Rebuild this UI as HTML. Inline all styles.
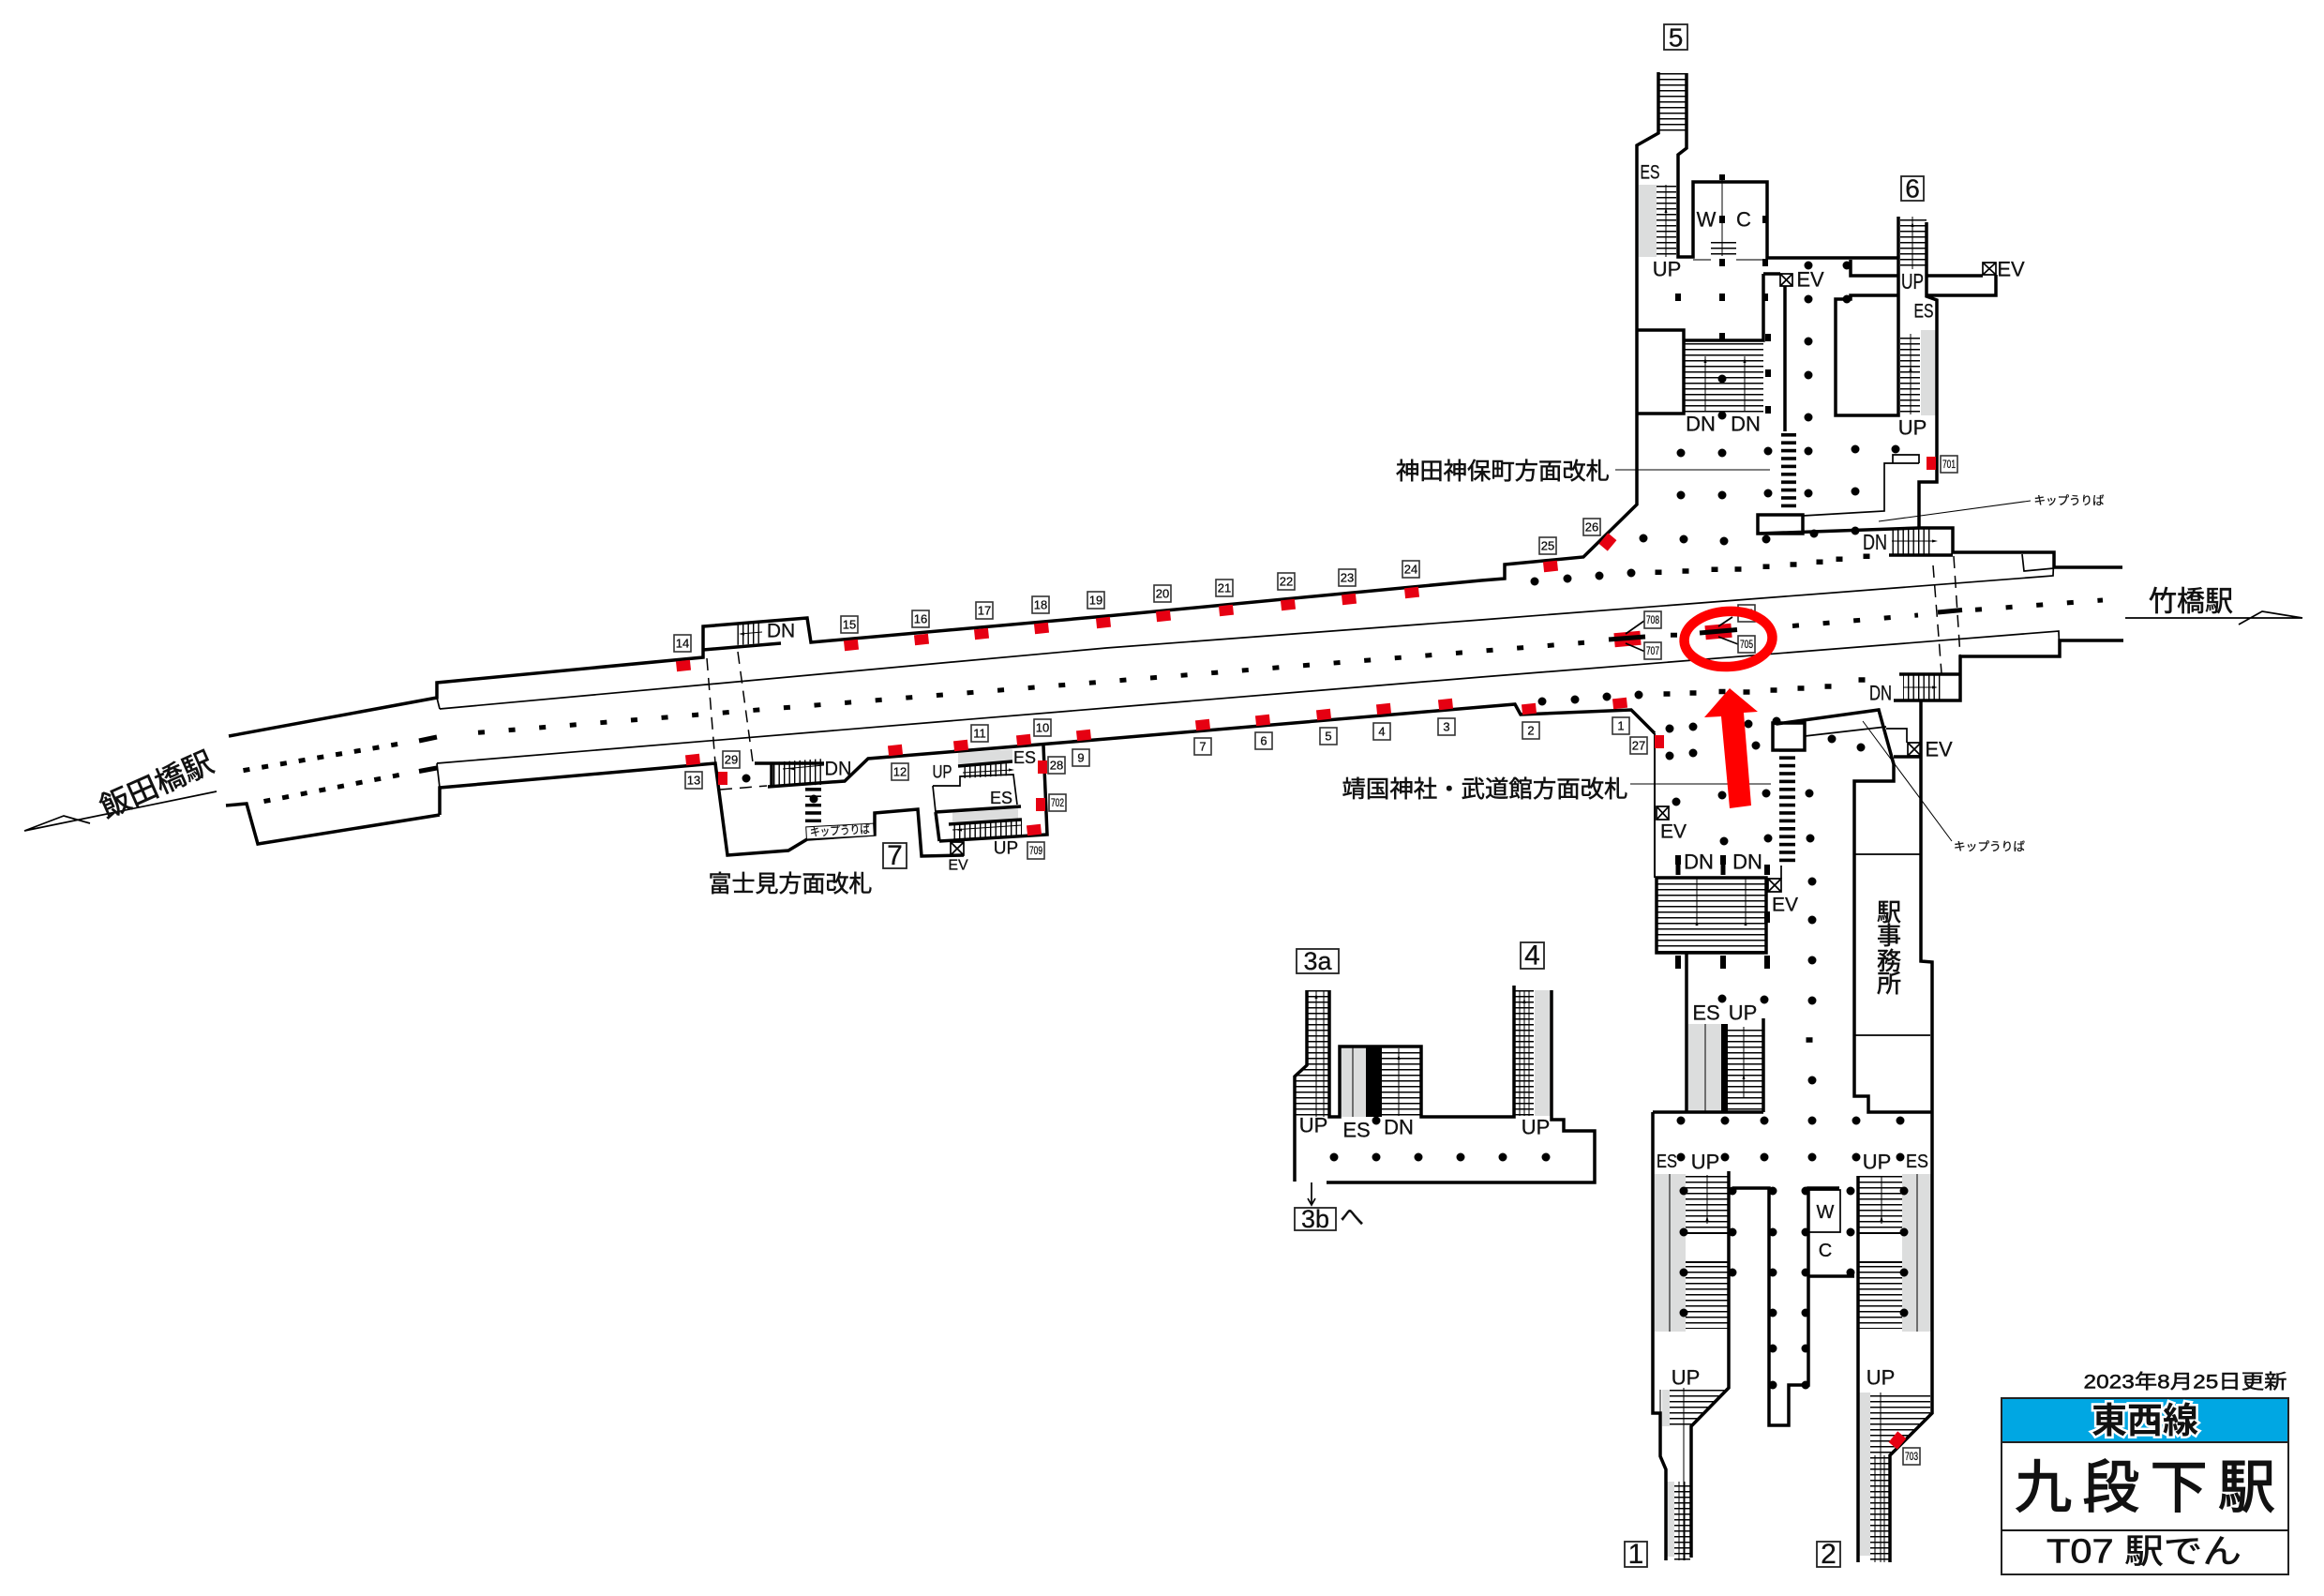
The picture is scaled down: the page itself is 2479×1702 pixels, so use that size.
<!DOCTYPE html>
<html lang="ja"><head><meta charset="utf-8"><title>九段下駅 駅でん</title>
<style>
html,body{margin:0;padding:0;background:#fff}
svg{display:block}
text{font-family:"Liberation Sans","Noto Sans CJK JP",sans-serif;fill:#111;stroke:#111;stroke-width:.3px;text-anchor:middle;dominant-baseline:central}
.w{fill:none;stroke:#000;stroke-width:3.5;stroke-linejoin:miter}
.m{fill:none;stroke:#000;stroke-width:2}
.t{fill:none;stroke:#000;stroke-width:1.7}
.h{fill:none;stroke:#000;stroke-width:1}
.b{fill:#fff;stroke:#333;stroke-width:1.6;width:18px;height:18px}
.k{fill:#fff;stroke:#222;stroke-width:1.8}
.g{fill:#dcdddd}
.n{font-size:13px}
.n3{font-size:12px}
.a{font-size:22px}
.s{font-size:18px}
.j{font-size:25px;stroke-width:.55px}
.q{font-size:12.5px}
.big{font-size:30px}
.r{fill:#e60012}
</style></head><body>
<svg xmlns="http://www.w3.org/2000/svg" width="2479" height="1702" viewBox="0 0 2479 1702">
<defs>
<pattern id="hp" patternUnits="userSpaceOnUse" width="8" height="6"><rect width="8" height="1.5" fill="#000"/></pattern>
<pattern id="vp" patternUnits="userSpaceOnUse" width="5.5" height="8"><rect width="1.4" height="8" fill="#000"/></pattern>
<pattern id="gp" patternUnits="userSpaceOnUse" width="8" height="8.4"><rect width="8" height="3.6" fill="#000"/></pattern>
<rect id="r" class="r" x="-7.5" y="-5.5" width="15" height="11" transform="rotate(-6)"/>
<rect id="u" class="r" x="-5" y="-7" width="10" height="14"/>
</defs>
<rect width="2479" height="1702" fill="#fff"/>

<!-- grey escalators -->
<path class="g" d="M1748 197h19v77h-19zM2049 352h16v91h-16zM1431 1117h26v74h-26zM1637 1056h18v134h-18zM1801 1092h35v93h-35zM1765 1252h33v168h-33zM2029 1252h31v168h-31zM1773 1482h8v39h-8zM1777 1580h9v80h-9zM1982 1485h13v174h-13zM1022 803L1080 799V812L1022 815ZM1016 867L1086 862V873L1016 877Z"/>

<!-- stairs -->
<g fill="url(#hp)">
<rect x="1769" y="77" width="30" height="65"/>
<rect x="1767" y="197" width="21" height="77"/>
<rect x="1825" y="254" width="27" height="22"/>
<rect x="1796" y="363" width="85" height="78"/>
<rect x="2027" y="231" width="28" height="56"/>
<rect x="2027" y="356" width="21" height="86"/>
<rect x="1767" y="936" width="117" height="80"/>
<rect x="1843" y="1095" width="37" height="90"/>
<rect x="1798" y="1253" width="45" height="61"/>
<rect x="1798" y="1346" width="45" height="71"/>
<rect x="1982" y="1254" width="47" height="60"/>
<rect x="1982" y="1346" width="47" height="71"/>
<polygon points="1781,1482 1840,1482 1804,1521 1781,1521"/>
<rect x="1786" y="1580" width="17" height="84"/>
<polygon points="1995,1485 2059,1485 2059,1507 2016,1552 1995,1552"/>
<rect x="1995" y="1552" width="20" height="114"/>
<rect x="1394" y="1056" width="24" height="81"/>
<polygon points="1394,1137 1418,1137 1418,1191 1382,1191 1382,1148"/>
<rect x="1474" y="1118" width="41" height="72"/>
<rect x="1615" y="1056" width="21" height="134"/>
</g>
<g fill="url(#vp)">
<polygon points="785,665 813,663 813,686 785,688"/>
<polygon points="823,813 879,809 879,837 823,838"/>
<polygon points="1027,817 1077,814 1077,827 1027,830"/>
<polygon points="1016,880 1090,875 1090,890 1016,895"/>
<rect x="2018" y="563" width="42" height="29"/>
<rect x="2030" y="719" width="41" height="28"/>
</g>
<g fill="url(#gp)">
<rect x="1900" y="462" width="16" height="83"/>
<rect x="1898" y="800" width="17" height="121"/>
<rect x="859" y="838" width="17" height="12"/>
<rect x="859" y="857" width="17" height="20"/>
</g>
<rect x="1457" y="1117" width="17" height="74" fill="#000"/>
<rect x="1836" y="1092" width="7" height="93" fill="#000"/>

<!-- thin platform lines -->
<path class="t" d="M469 756L1180 691L1580 661L2190 614L2191 589M2157 591L2159 609L2191 606"/>
<path class="t" d="M466 814L1180 755L1580 722L2196 673L2197 700M466 744L469 756M466 814L469 840"/>

<!-- walls -->
<path class="w" d="M244 785L466 744V728L750 701V668L861 659L865 685L1180 657L1580 619L1605 617V602L1689 594L1746 538V155L1769 142V77"/>
<path class="w" d="M1799 78V158L1790 165V274H1806V194H1885V275H2025M2025 231V443H1958V319H1974V315H2025M1974 277V294H2025M2056 294H2115M2129 293V315H2056M2055 237V316L2066 320V514H2047V563"/>
<path class="w" d="M1881 292V363H1796V441H1746M1746 352H1796V363M1881 292H1899M1904 305V460"/>
<path class="w" d="M1875 549H1923V569H1875ZM1875 569L2047 563H2083V589H2191V605H2264M2015 592H2083"/>
<path class="w" d="M2265 683H2197V700H2091V747H2020M2026 719H2090M2049 747V1025L2061 1026V1507L2016 1552V1666"/>
<path class="w" d="M469 869V840L763 814L776 912L841 907L861 895L933 890V867L979 863L983 913L1028 912"/>
<path class="w" d="M241 859L263 857L275 900L469 869"/>
<path class="w" d="M819 839L901 833L926 809L1180 788L1580 754L1616 751L1622 762L1740 757L1765 782"/>
<path class="w" d="M1002 897L1117 890L1113 795M998 866L1089 860M998 866L1002 897M1012 879L1090 874M1022 817L1080 812M750 693L833 686M823 813V838M805 814H879"/>
<path class="t" d="M995 838H1024V828L1081 826L1085 858M998 866L995 838"/>
<path class="m" d="M1765 782V936"/>
<path class="w" d="M1767 936H1884V1016H1767ZM1895 772L2004 757L2020 815V833H1978V1169H1993V1186H2061M1891 771H1925V800H1891ZM2020 807H2049"/>
<path class="t" d="M1925 785L2012 775M2012 777H2034V792"/>
<path class="w" d="M1799 1017V1186M1881 1086V1186M1763 1186H1881M1763 1186V1507H1771V1553L1777 1567V1664M1844 1249V1480L1804 1521V1661M1848 1267H1887V1520H1908V1477H1929V1267H1962M1929 1361H1978M1982 1254V1666"/>
<path class="t" d="M1929 1269H1963V1314H1929M1978 911H2049M1978 1104H2059M1900 923V937"/>
<path class="w" d="M1394 1056V1136L1381 1148V1260M1418 1056V1191H1429V1116H1516V1191H1615V1051M1655 1056V1194H1668V1206H1701V1261H1415"/>
<path class="m" d="M1798 1315H1843M1798 1346H1843M1982 1315H2029M1982 1346H2029"/>
<path class="h" d="M1837 186V273M1819 1092V1185M1781 1252V1420M1821 1253V1305M2007 1254V1305M2045 1252V1420M1796 1480V1664M2006 1485V1666M1443 1117V1191M1492 1118V1190M1860 1095V1170M1771 1482V1521"/>
<path class="h" d="M1404 1056V1191M1412 1056V1191M1621 1056V1190M1626 1056V1190M1631 1056V1190M1791 1580V1664M1797 1580V1664M2000 1552V1666M2010 1552V1666M1777 197V274M2040 231V287M2038 356V442M1819 380V438M1861 380V438M1810 936V985M1862 936V985M790 676L813 674M835 820L879 816M1027 824L1080 821M1016 885L1090 880M2018 577H2065M2030 733H2065"/>
<path class="t" d="M1806 277H1825M1852 277H1881" style="stroke:#666"/>
<!-- tiny direction arrows -->
<path fill="#000" d="M1777 221l-1.500 6h3zM1819 381l-1.500 6h3zM1861 381l-1.500 6h3zM2040 236l-1.500 6h3zM2038 390l-1.500 6h3zM1810 981l-1.500 6h3zM1862 981l-1.500 6h3zM1860 1145l-1.500 6h3zM1821 1296l-1.500 6h3zM2007 1296l-1.500 6h3zM1404 1059l-1.500 6h3zM1626 1064l-1.500 6h3zM1492 1124l-1.500 6h3zM2067 577l-6-1.500v3zM2067 733l-6-1.500v3zM842 820l6-1.500v3zM1082 821l-6-1.500v3zM1020 885l6-1.500v3zM788 676l6-1.500v3z"/>

<!-- pillars & gates bars -->
<path d="M1790 912V922M1838 912V922M1885 922V933M1790 1019V1033M1838 1019V1033M1885 1019V1033M1885 972V984M1837 186V192M1837 230V238M1883 230V238M1837 276V284M1883 276V284M1790 313V321M1837 313V321M1883 313V321M1837 355V363M1886 356V364M1886 394V402M1886 433V441" stroke="#000" stroke-width="6" fill="none"/>
<path d="M1790 921V933M1838 921V933" stroke="#000" stroke-width="5" fill="none"/>

<!-- round columns -->
<path fill="none" stroke="#000" stroke-width="9" stroke-linecap="round" d="M1929 283h0M1970 283h0M1929 319h0M1970 319h0M1929 364h0M1929 400h0M1929 445h0M1837 404h0M1837 443h0
M1793 483h0M1837 483h0M1886 481h0M1929 481h0M1979 479h0M2022 479h0
M1793 528h0M1837 528h0M1886 526h0M1929 526h0M1979 524h0
M1753 574h0M1796 575h0M1839 577h0M1884 575h0M1935 569h0M1979 566h0
M1637 620h0M1672 617h0M1706 614h0M1740 611h0
M1645 748h0M1680 746h0M1714 743h0M1748 741h0
M1781 777h0M1806 775h0M1865 772h0M1895 769h0M1781 806h0M1806 803h0M1873 795h0M1954 788h0M1985 797h0
M1837 848h0M1884 846h0M1930 846h0M1788 855h0M1839 897h0M1886 894h0M1931 894h0M1933 940h0M1933 981h0M1933 1024h0M1933 1067h0M1933 1152h0
M1837 1065h0M1882 1066h0
M1793 1195h0M1840 1195h0M1882 1195h0M1933 1195h0M1980 1195h0M2027 1195h0
M1793 1234h0M1840 1234h0M1882 1234h0M1933 1234h0M1980 1234h0M2027 1234h0
M1796 1270h0M1796 1314h0M1796 1357h0M1796 1400h0M1848 1270h0M1848 1314h0M1848 1357h0
M1891 1270h0M1891 1314h0M1891 1357h0M1891 1400h0M1891 1438h0M1891 1477h0
M1926 1270h0M1926 1314h0M1926 1357h0M1926 1400h0M1926 1438h0M1926 1477h0
M1974 1270h0M1974 1314h0M1974 1357h0M2031 1270h0M2031 1314h0M2031 1357h0M2031 1400h0
M1468 1195h0M1423 1234h0M1468 1234h0M1513 1234h0M1558 1234h0M1603 1234h0M1649 1234h0
M796 830h0M868 852h0"/>
<!-- square columns -->
<path fill="none" stroke="#000" stroke-width="5.5" d="M1765.5 610.3h7M1794.5 609h7M1825.5 607.3h7M1850.5 607h7M1880.5 604.3h7M1909.5 602h7M1937.5 599.3h7M1958.5 596.3h7M1987.5 593.3h7
M1774.5 740h7M1802.5 739h7M1833.5 737.5h7M1859.5 738h7M1888.5 736h7M1917.5 734h7M1946.5 732h7M1982.5 725h7M1926.5 1109h7"/>

<!-- platform edge -->
<path fill="none" stroke="#000" stroke-width="5" stroke-dasharray="7 25.7" d="M510 781.3L1690 685.3M1912 667.5L2046 656M2107 650.3L2243 640"/>
<path fill="none" stroke="#000" stroke-width="5" stroke-dasharray="7 13" d="M259.500 821.600L430 792.500M281.500 854.600L428 826"/>
<path fill="none" stroke="#000" stroke-width="5" d="M1782 677.200h7M447 790L466 786M447 822.500L466 819M2067 653L2093 650.500"/>

<!-- dashed passages -->
<path fill="none" stroke="#000" stroke-width="1.5" stroke-dasharray="13 8" d="M754 702L763 814M787 695L803 813L821 814M768 842L818 838M2062 603L2071 718M2084 593L2091 700"/>

<!-- station marks -->
<path class="t" d="M231 844L26 886L68 870L96 878"/>
<path class="t" d="M2267 659H2456L2413 652L2388 666"/>

<!-- ticket counters & leaders -->
<path class="t" d="M1923 550L2010 545V494H2047M2019 494V485H2047V494"/>
<path class="h" d="M2004 556L2166 534M1987 769L2082 897M1723 501H1888M1739 836H1889"/>
<rect x="860" y="880" width="72" height="13" fill="#fff" stroke="#000" stroke-width="1" transform="rotate(-3 896 886)"/>
<text class="q" x="896" y="886" transform="rotate(-3 896 886)" textLength="64" lengthAdjust="spacingAndGlyphs">キップうりば</text>
<text class="q" x="2207" y="534" textLength="75" lengthAdjust="spacingAndGlyphs">キップうりば</text>
<text class="q" x="2122" y="903" textLength="76" lengthAdjust="spacingAndGlyphs">キップうりば</text>

<!-- EV boxes -->
<g class="t">
<path d="M1899 292h13v13h-13zM1899 292l13 13M1912 292l-13 13M2115 280h14v13h-14zM2115 280l14 13M2129 280l-14 13M2035 792h14v14h-14zM2035 792l14 14M2049 792l-14 14M1767 860h13v14h-13zM1767 860l13 14M1780 860l-13 14M1886 937h14v14h-14zM1886 937l14 14M1900 937l-14 14M1014 898h14v14h-14zM1014 898l14 14M1028 898l-14 14"/>
</g>

<!-- red doors -->
<use href="#r" x="729" y="710"/><use href="#r" x="908" y="688"/><use href="#r" x="983" y="682"/><use href="#r" x="1047" y="676"/><use href="#r" x="1111" y="670"/><use href="#r" x="1177" y="664"/><use href="#r" x="1241" y="657"/><use href="#r" x="1308" y="651"/><use href="#r" x="1374" y="645"/><use href="#r" x="1439" y="639"/><use href="#r" x="1506" y="632"/><use href="#r" x="1654" y="604"/>
<use href="#r" x="739" y="810"/><use href="#r" x="955" y="800"/><use href="#r" x="1025" y="795"/><use href="#r" x="1092" y="789"/><use href="#r" x="1156" y="784"/><use href="#r" x="1283" y="773"/><use href="#r" x="1347" y="768"/><use href="#r" x="1412" y="762"/><use href="#r" x="1476" y="756"/><use href="#r" x="1542" y="751"/><use href="#r" x="1631" y="756"/><use href="#r" x="1728" y="750"/><use href="#r" x="1103" y="885"/>
<use href="#u" x="771" y="830"/><use href="#u" x="1112" y="818"/><use href="#u" x="1110" y="858"/><use href="#u" x="1770" y="791"/><use href="#u" x="2060" y="494"/>
<rect class="r" x="-7.500" y="-6" width="15" height="12" transform="translate(1715 578) rotate(-50)"/>
<rect class="r" x="-7.500" y="-6" width="15" height="12" transform="translate(2024 1536) rotate(-50)"/>

<!-- platform lifts -->
<rect class="r" x="1722" y="674" width="28" height="15" transform="rotate(-5 1736 681)"/>
<rect class="r" x="1819" y="666" width="28" height="15" transform="rotate(-5 1833 673)"/>
<path d="M1716 682L1755 679M1813 675L1853 671.500" stroke="#000" stroke-width="5" fill="none"/>
<path class="t" d="M1734 676L1754 662M1734 686L1755 695M1833 668L1848 658M1833 679L1854 687"/>

<!-- number labels -->
<g>
<rect class="b" x="719" y="677"/><text class="n" x="728" y="686">14</text>
<rect class="b" x="897" y="657"/><text class="n" x="906" y="666">15</text>
<rect class="b" x="973" y="651"/><text class="n" x="982" y="660">16</text>
<rect class="b" x="1041" y="642"/><text class="n" x="1050" y="651">17</text>
<rect class="b" x="1101" y="636"/><text class="n" x="1110" y="645">18</text>
<rect class="b" x="1160" y="631"/><text class="n" x="1169" y="640">19</text>
<rect class="b" x="1231" y="624"/><text class="n" x="1240" y="633">20</text>
<rect class="b" x="1297" y="618"/><text class="n" x="1306" y="627">21</text>
<rect class="b" x="1363" y="611"/><text class="n" x="1372" y="620">22</text>
<rect class="b" x="1428" y="607"/><text class="n" x="1437" y="616">23</text>
<rect class="b" x="1496" y="598"/><text class="n" x="1505" y="607">24</text>
<rect class="b" x="1642" y="573"/><text class="n" x="1651" y="582">25</text>
<rect class="b" x="1689" y="553"/><text class="n" x="1698" y="562">26</text>
<rect class="b" x="731" y="823"/><text class="n" x="740" y="832">13</text>
<rect class="b" x="771" y="801"/><text class="n" x="780" y="810">29</text>
<rect class="b" x="951" y="814"/><text class="n" x="960" y="823">12</text>
<rect class="b" x="1036" y="773"/><text class="n" x="1045" y="782">11</text>
<rect class="b" x="1103" y="767"/><text class="n" x="1112" y="776">10</text>
<rect class="b" x="1144" y="799"/><text class="n" x="1153" y="808">9</text>
<rect class="b" x="1118" y="807"/><text class="n" x="1127" y="816">28</text>
<rect class="b" x="1119" y="847"/><text class="n3" x="1128" y="856" textLength="14" lengthAdjust="spacingAndGlyphs">702</text>
<rect class="b" x="1096" y="898"/><text class="n3" x="1105" y="907" textLength="14" lengthAdjust="spacingAndGlyphs">709</text>
<rect class="b" x="1274" y="787"/><text class="n" x="1283" y="796">7</text>
<rect class="b" x="1339" y="781"/><text class="n" x="1348" y="790">6</text>
<rect class="b" x="1408" y="776"/><text class="n" x="1417" y="785">5</text>
<rect class="b" x="1465" y="771"/><text class="n" x="1474" y="780">4</text>
<rect class="b" x="1534" y="766"/><text class="n" x="1543" y="775">3</text>
<rect class="b" x="1624" y="770"/><text class="n" x="1633" y="779">2</text>
<rect class="b" x="1720" y="765"/><text class="n" x="1729" y="774">1</text>
<rect class="b" x="1739" y="786"/><text class="n" x="1748" y="795">27</text>
<rect class="b" x="2070" y="486"/><text class="n3" x="2079" y="495" textLength="14" lengthAdjust="spacingAndGlyphs">701</text>
<rect class="b" x="2030" y="1544"/><text class="n3" x="2039" y="1553" textLength="14" lengthAdjust="spacingAndGlyphs">703</text>
<rect class="b" x="1754" y="652"/><text class="n3" x="1763" y="661" textLength="14" lengthAdjust="spacingAndGlyphs">708</text>
<rect class="b" x="1754" y="685"/><text class="n3" x="1763" y="694" textLength="14" lengthAdjust="spacingAndGlyphs">707</text>
<rect class="b" x="1854" y="645"/><text class="n3" x="1863" y="654" textLength="14" lengthAdjust="spacingAndGlyphs">706</text>
</g>

<!-- highlight -->
<ellipse cx="1843.500" cy="681.500" rx="47" ry="29.500" fill="none" stroke="#f00" stroke-width="10.500" transform="rotate(-3 1843 681)"/>
<rect class="b" x="1854" y="678"/><text class="n3" x="1863" y="687" textLength="14" lengthAdjust="spacingAndGlyphs">705</text>
<polygon fill="#f00" points="1845,734 1818,765 1836,764 1845,862 1868,859 1860,760 1875,759"/>

<!-- exit boxes -->
<rect class="k" x="1775" y="26" width="25" height="27"/><text class="big" x="1787.500" y="40" style="font-size:28px">5</text>
<rect class="k" x="2028" y="188" width="24" height="26"/><text class="big" x="2040" y="201" style="font-size:28px">6</text>
<rect class="k" x="942" y="899" width="25" height="27"/><text class="big" x="954.500" y="912.500">7</text>
<rect class="k" x="1383" y="1012" width="45" height="26"/><text class="big" x="1405.500" y="1025" style="font-size:27px">3a</text>
<rect class="k" x="1622" y="1005" width="25" height="28"/><text class="big" x="1634.500" y="1019">4</text>
<rect class="k" x="1381" y="1288" width="44" height="24"/><text class="big" x="1403" y="1300" style="font-size:27px">3b</text>
<rect class="k" x="1733" y="1644" width="24" height="27"/><text class="big" x="1745" y="1657.500">1</text>
<rect class="k" x="1938" y="1644" width="25" height="27"/><text class="big" x="1950.500" y="1657.500">2</text>
<text class="big" x="1442" y="1298" style="font-size:26px">へ</text>
<path class="t" d="M1399 1261V1284M1395 1278L1399 1285L1403 1278"/>

<!-- small labels -->
<g class="a">
<text x="1778" y="287">UP</text><text x="1820" y="234">W</text><text x="1860" y="234">C</text>
<text x="1931" y="298">EV</text><text x="2145" y="287">EV</text>
<text x="2040" y="300" style="font-size:23px" textLength="24" lengthAdjust="spacingAndGlyphs">UP</text>
<text x="2040" y="456">UP</text><text x="1814" y="452">DN</text><text x="1862" y="452">DN</text>
<text x="2068" y="799">EV</text><text x="1785" y="887" style="font-size:21px">EV</text><text x="1904" y="965" style="font-size:21px">EV</text>
<text x="1812" y="919">DN</text><text x="1864" y="919">DN</text>
<text x="1820" y="1080">ES</text><text x="1859" y="1080">UP</text>
<text x="1819" y="1239">UP</text><text x="2002" y="1239">UP</text>
<text x="1798" y="1469">UP</text><text x="2006" y="1469">UP</text>
<text x="1401" y="1200">UP</text><text x="1447" y="1205">ES</text><text x="1492" y="1202">DN</text><text x="1638" y="1202">UP</text>
<text x="1947" y="1293" style="font-size:20px">W</text><text x="1947" y="1334" style="font-size:20px">C</text>
<text x="833" y="673" style="font-size:21px">DN</text><text x="894" y="820" style="font-size:21px" textLength="29" lengthAdjust="spacingAndGlyphs">DN</text><text x="1005" y="824" style="font-size:19px" textLength="21" lengthAdjust="spacingAndGlyphs">UP</text><text x="1073" y="905" style="font-size:19px">UP</text>
</g>
<g class="s">
<text x="1760" y="184" style="font-size:21px" textLength="21" lengthAdjust="spacingAndGlyphs">ES</text>
<text x="2052" y="332" style="font-size:21px" textLength="21" lengthAdjust="spacingAndGlyphs">ES</text>
<text x="2000" y="578" style="font-size:23px" textLength="26" lengthAdjust="spacingAndGlyphs">DN</text>
<text x="2006" y="739" style="font-size:22px" textLength="24" lengthAdjust="spacingAndGlyphs">DN</text>
<text x="1778" y="1239" style="font-size:20px" textLength="22" lengthAdjust="spacingAndGlyphs">ES</text>
<text x="2045" y="1239" style="font-size:20px" textLength="24" lengthAdjust="spacingAndGlyphs">ES</text>
<text x="1093" y="808">ES</text><text x="1068" y="851">ES</text>
<text x="1022" y="923" style="font-size:16px">EV</text>
</g>

<!-- station & direction labels -->
<text class="j" x="1603" y="503" textLength="228" lengthAdjust="spacingAndGlyphs">神田神保町方面改札</text>
<text class="j" x="1584" y="842" textLength="305" lengthAdjust="spacingAndGlyphs">靖国神社・武道館方面改札</text>
<text class="j" x="843" y="943" textLength="175" lengthAdjust="spacingAndGlyphs">富士見方面改札</text>
<text x="167" y="837" transform="rotate(-24 167 837)" style="font-size:32px;stroke-width:.6px">飯田橋駅</text>
<text x="2337" y="642" style="font-size:30px;stroke-width:.6px">竹橋駅</text>
<g>
<text x="2015" y="973" style="font-size:26px;stroke-width:.6px">駅</text><text x="2015" y="998" style="font-size:26px;stroke-width:.6px">事</text><text x="2015" y="1025" style="font-size:26px;stroke-width:.6px">務</text><text x="2015" y="1049" style="font-size:26px;stroke-width:.6px">所</text>
</g>

<!-- title block -->
<text x="2331" y="1474" style="font-size:21px;stroke-width:.5px" textLength="217" lengthAdjust="spacingAndGlyphs">2023年8月25日更新</text>
<rect x="2135" y="1491" width="306" height="188" fill="#fff" stroke="#222" stroke-width="2"/>
<rect x="2135" y="1491" width="306" height="47" fill="#00a7e3" stroke="#222" stroke-width="2"/>
<path d="M2135 1632H2441" stroke="#111" stroke-width="2"/>
<text x="2288" y="1516" style="font-size:38px;stroke:#fff;stroke-width:5px;paint-order:stroke;font-weight:700">東西線</text>
<text x="2288" y="1586" style="font-size:61px;stroke-width:1.4px" textLength="278" lengthAdjust="spacing">九段下駅</text>
<text x="2287" y="1654" style="font-size:36px;stroke-width:.6px" textLength="208" lengthAdjust="spacingAndGlyphs">T07 駅でん</text>
</svg>
</body></html>
